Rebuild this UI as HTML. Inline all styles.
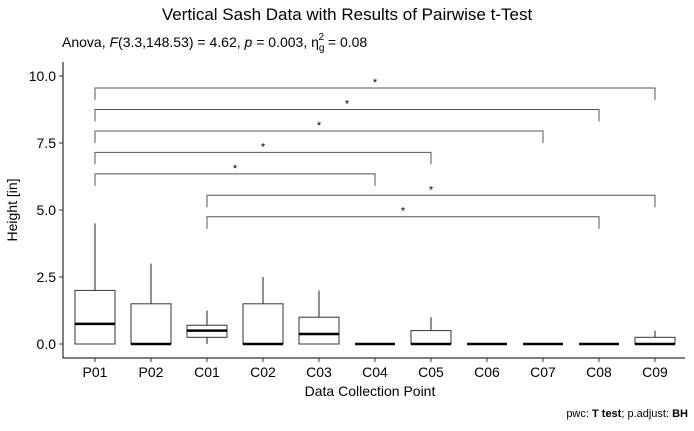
<!DOCTYPE html>
<html><head><meta charset="utf-8"><style>
body{margin:0;background:#fff;font-family:"Liberation Sans",Arial,sans-serif}
</style></head><body>
<svg width="694" height="426" xmlns="http://www.w3.org/2000/svg" font-family="Liberation Sans, Arial, sans-serif">
<text x="347" y="20" text-anchor="middle" font-size="17">Vertical Sash Data with Results of Pairwise t-Test</text>
<text x="62" y="47" font-size="14">Anova, <tspan font-style="italic">F</tspan>(3.3,148.53) = 4.62, <tspan font-style="italic">p</tspan> = 0.003, η<tspan font-size="10" dy="4">g</tspan><tspan font-size="10" dx="-6" dy="-11">2</tspan><tspan dy="7"> = 0.08</tspan></text>
<g id="axes"></g><g id="marks"></g>
<text x="370" y="396" text-anchor="middle" font-size="14">Data Collection Point</text>
<text transform="translate(17,210) rotate(-90)" text-anchor="middle" font-size="14">Height [in]</text>
<text x="688" y="417" text-anchor="end" font-size="11">pwc: <tspan font-weight="bold">T test</tspan>; p.adjust: <tspan font-weight="bold">BH</tspan></text>
</svg>
<script>
const categories=["P01","P02","C01","C02","C03","C04","C05","C06","C07","C08","C09"];
const mins=[0,0,0,0,0,0,0,0,0,0,0];
const q1s=[0,0,0.25,0,0,0,0,0,0,0,0];
const medians=[0.75,0,0.5,0,0.375,0,0,0,0,0,0];
const q3s=[2,1.5,0.7,1.5,1,0,0.5,0,0,0,0.25];
const maxs=[4.5,3,1.25,2.5,2,0,1,0,0,0,0.5];
const yTicks=[0,2.5,5,7.5,10];
const yTickLabels=["0.0","2.5","5.0","7.5","10.0"];
const pairFrom=["P01","P01","P01","P01","P01","C01","C01"];
const pairTo=["C04","C05","C07","C08","C09","C08","C09"];
const pairY=[6.35,7.15,7.95,8.75,9.55,4.75,5.55];
const pairLabel=["*","*","*","*","*","*","*"];
const NS="http://www.w3.org/2000/svg";
const X=c=>95+56*categories.indexOf(c);
const Xi=i=>95+56*i;
const Y=v=>344-26.8*v;
function mk(t,a,p){const e=document.createElementNS(NS,t);for(const k in a)e.setAttribute(k,a[k]);p.appendChild(e);return e;}
const ax=document.getElementById('axes'),mg=document.getElementById('marks');
const yl=mk('line',{x1:63,y1:62,x2:63,y2:358,stroke:'#000','stroke-width':1},ax);

const xl=mk('line',{x1:63,y1:358,x2:685,y2:358,stroke:'#000','stroke-width':1},ax);

yTicks.forEach((v,i)=>{mk('line',{x1:59,x2:63,y1:Y(v),y2:Y(v),stroke:'#333'},ax);
const t=mk('text',{x:56,y:Y(v)+5,'text-anchor':'end','font-size':14},ax);t.textContent=yTickLabels[i];
});
categories.forEach((c,i)=>{const x=Xi(i);mk('line',{x1:x,x2:x,y1:358,y2:362,stroke:'#333'},ax);
const t=mk('text',{x:x,y:377,'text-anchor':'middle','font-size':14},ax);t.textContent=c;

const g=mk('g',{},mg);
if(maxs[i]>q3s[i])mk('line',{x1:x,x2:x,y1:Y(maxs[i]),y2:Y(q3s[i]),stroke:'#222','stroke-width':1},g);
if(q1s[i]>mins[i])mk('line',{x1:x,x2:x,y1:Y(q1s[i]),y2:Y(mins[i]),stroke:'#222','stroke-width':1},g);
mk('rect',{x:x-20,y:Y(q3s[i]),width:40,height:Math.max(0,Y(q1s[i])-Y(q3s[i])),fill:'#fff',stroke:'#333','stroke-width':1},g);
mk('line',{x1:x-20,x2:x+20,y1:Y(medians[i]),y2:Y(medians[i]),stroke:'#000','stroke-width':2.5},g);});
pairFrom.forEach((f,i)=>{const a=X(f),b=X(pairTo[i]),y=Y(pairY[i]);
const g=mk('g',{},mg);
mk('path',{d:`M${a},${y+12}V${y}H${b}V${y+12}`,fill:'none',stroke:'#555','stroke-width':1},g);
const t=mk('text',{x:(a+b)/2,y:y-2,'text-anchor':'middle','font-size':11},g);t.textContent=pairLabel[i];});
</script>
</body></html>
